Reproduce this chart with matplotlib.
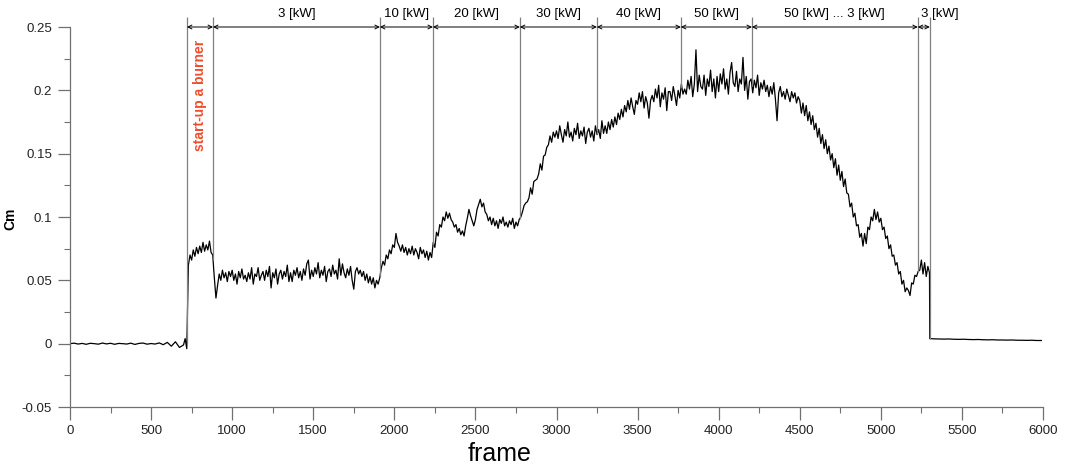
import matplotlib
matplotlib.use('Agg')
import matplotlib.pyplot as plt
import numpy as np

plt.rcParams.update({'font.family': ['Liberation Sans', 'DejaVu Sans'],
                     'font.size': 9.5})

# --- signal -------------------------------------------------------------
frame_pre = np.arange(0, 700, 25)
cm_pre = [0.0, 0.0004, -0.0003, 0.0002, -0.0005, 0.0003, 0.0, -0.0004,
          0.0005, -0.0002, 0.0003, -0.0005, 0.0002, 0.0, -0.0003, 0.0004,
          -0.0006, 0.0002, 0.0005, -0.0004, 0.0001, -0.0003, 0.0006, -0.0008,
          0.0010, -0.0020, 0.0015, -0.0030]

frame_run = np.arange(700, 5301, 10)
cm_run = [
    -0.001, 0.004, -0.004, 0.062, 0.070, 0.066, 0.074, 0.069, 0.076, 0.071,   # 700
    0.077, 0.072, 0.080, 0.073, 0.078, 0.074, 0.081, 0.072, 0.070, 0.052,     # 800
    0.036, 0.046, 0.055, 0.050, 0.058, 0.052, 0.056, 0.049, 0.057, 0.053,     # 900
    0.058, 0.050, 0.055, 0.047, 0.057, 0.052, 0.059, 0.051, 0.054, 0.049,     # 1000
    0.056, 0.051, 0.060, 0.047, 0.055, 0.053, 0.060, 0.050, 0.054, 0.057,     # 1100
    0.050, 0.058, 0.053, 0.061, 0.044, 0.056, 0.052, 0.059, 0.047, 0.055,     # 1200
    0.058, 0.051, 0.057, 0.053, 0.062, 0.049, 0.056, 0.049, 0.058, 0.054,     # 1300
    0.060, 0.052, 0.057, 0.050, 0.059, 0.054, 0.063, 0.066, 0.051, 0.058,     # 1400
    0.053, 0.060, 0.055, 0.064, 0.052, 0.058, 0.054, 0.061, 0.049, 0.057,     # 1500
    0.059, 0.053, 0.062, 0.055, 0.058, 0.051, 0.067, 0.054, 0.063, 0.056,     # 1600
    0.052, 0.059, 0.054, 0.061, 0.050, 0.043, 0.057, 0.060, 0.055, 0.058,     # 1700
    0.053, 0.057, 0.050, 0.055, 0.048, 0.053, 0.047, 0.052, 0.044, 0.050,     # 1800
    0.047, 0.052, 0.060, 0.065, 0.062, 0.070, 0.067, 0.074, 0.071, 0.078,     # 1900
    0.076, 0.087, 0.080, 0.077, 0.073, 0.078, 0.072, 0.076, 0.070, 0.075,     # 2000
    0.071, 0.077, 0.070, 0.075, 0.072, 0.067, 0.076, 0.071, 0.074, 0.068,     # 2100
    0.073, 0.066, 0.072, 0.068, 0.080, 0.076, 0.088, 0.085, 0.094, 0.092,     # 2200
    0.100, 0.097, 0.104, 0.099, 0.103, 0.098, 0.096, 0.092, 0.094, 0.088,     # 2300
    0.091, 0.086, 0.089, 0.085, 0.093, 0.099, 0.106, 0.101, 0.097, 0.093,     # 2400
    0.098, 0.106, 0.110, 0.114, 0.108, 0.111, 0.104, 0.102, 0.097, 0.100,     # 2500
    0.094, 0.099, 0.093, 0.097, 0.091, 0.098, 0.095, 0.100, 0.093, 0.096,     # 2600
    0.092, 0.097, 0.094, 0.099, 0.091, 0.096, 0.093, 0.098, 0.100, 0.104,     # 2700
    0.109, 0.111, 0.112, 0.115, 0.123, 0.118, 0.128, 0.129, 0.130, 0.134,     # 2800
    0.142, 0.137, 0.148, 0.149, 0.155, 0.157, 0.164, 0.159, 0.167, 0.163,     # 2900
    0.168, 0.162, 0.172, 0.165, 0.159, 0.169, 0.164, 0.175, 0.163, 0.167,     # 3000
    0.160, 0.170, 0.165, 0.174, 0.162, 0.168, 0.164, 0.171, 0.158, 0.167,     # 3100
    0.170, 0.163, 0.168, 0.160, 0.172, 0.165, 0.169, 0.162, 0.176, 0.166,     # 3200
    0.172, 0.166, 0.175, 0.169, 0.177, 0.171, 0.179, 0.173, 0.182, 0.177,     # 3300
    0.185, 0.179, 0.188, 0.183, 0.192, 0.185, 0.194, 0.187, 0.181, 0.192,     # 3400
    0.189, 0.198, 0.191, 0.199, 0.186, 0.195, 0.190, 0.178, 0.192, 0.196,     # 3500
    0.191, 0.201, 0.194, 0.204, 0.187, 0.198, 0.193, 0.202, 0.184, 0.199,     # 3600
    0.199, 0.192, 0.203, 0.196, 0.188, 0.200, 0.194, 0.205, 0.197, 0.201,     # 3700
    0.197, 0.208, 0.201, 0.211, 0.195, 0.205, 0.232, 0.199, 0.212, 0.203,     # 3800
    0.201, 0.212, 0.196, 0.209, 0.203, 0.216, 0.199, 0.209, 0.194, 0.211,     # 3900
    0.199, 0.213, 0.205, 0.217, 0.201, 0.209, 0.197, 0.214, 0.222, 0.206,     # 4000
    0.203, 0.215, 0.199, 0.209, 0.205, 0.226, 0.200, 0.211, 0.193, 0.207,     # 4100
    0.209, 0.198, 0.208, 0.202, 0.212, 0.196, 0.206, 0.201, 0.208, 0.199,     # 4200
    0.204, 0.195, 0.203, 0.197, 0.206, 0.193, 0.176, 0.198, 0.203, 0.195,     # 4300
    0.199, 0.193, 0.201, 0.196, 0.191, 0.199, 0.194, 0.198, 0.190, 0.195,     # 4400
    0.192, 0.182, 0.190, 0.180, 0.188, 0.176, 0.183, 0.173, 0.180, 0.169,     # 4500
    0.174, 0.163, 0.170, 0.158, 0.165, 0.154, 0.161, 0.150, 0.156, 0.145,     # 4600
    0.150, 0.139, 0.146, 0.133, 0.141, 0.129, 0.136, 0.124, 0.130, 0.119,     # 4700
    0.118, 0.108, 0.111, 0.100, 0.103, 0.093, 0.094, 0.084, 0.087, 0.077,     # 4800
    0.087, 0.079, 0.092, 0.090, 0.100, 0.097, 0.106, 0.098, 0.104, 0.096,     # 4900
    0.099, 0.090, 0.092, 0.083, 0.085, 0.075, 0.078, 0.069, 0.070, 0.062,     # 5000
    0.064, 0.055, 0.057, 0.047, 0.050, 0.041, 0.044, 0.042, 0.038, 0.048,     # 5100
    0.047, 0.054, 0.053, 0.057, 0.058, 0.066, 0.055, 0.064, 0.053, 0.061,     # 5200
    0.056,                                                                    # 5300
]

frame_post = np.r_[5302, np.arange(5330, 6000, 30)]
cm_post = [0.0040, 0.0038, 0.0037, 0.0036, 0.0037, 0.0035, 0.0034, 0.0035,
           0.0033, 0.0032, 0.0033, 0.0031, 0.0030, 0.0031, 0.0029, 0.0029,
           0.0028, 0.0029, 0.0027, 0.0027, 0.0026, 0.0027, 0.0025, 0.0025]

frames = np.concatenate([frame_pre, frame_run, frame_post])
cm = np.array(cm_pre + cm_run + cm_post)

# operating regimes
marks = [721, 882, 1911, 2238, 2774, 3249, 3767, 4205, 5228, 5302]
regime_labels = ['3 [kW]', '10 [kW]', '20 [kW]', '30 [kW]', '40 [kW]',
                 '50 [kW]', '50 [kW] ... 3 [kW]']
last_label = '3 [kW]'

fig = plt.figure(figsize=(10.67, 4.67), dpi=100)
ax = fig.add_axes([70 / 1067, 1 - 407 / 467, 973 / 1067, 380 / 467])

ax.plot(frames, cm, color='black', lw=0.9)

top = 0.258
bottoms = np.interp(marks, frames, cm)
bottoms[0] = 0.0
ax.vlines(marks, bottoms, top, color='#808080', lw=0.9, clip_on=False)

for a, b in zip(marks[:-1], marks[1:]):
    ax.annotate('', xy=(b, 0.25), xytext=(a, 0.25), annotation_clip=False,
                arrowprops=dict(arrowstyle='<->', lw=0.7, color='black',
                                shrinkA=0, shrinkB=0, mutation_scale=7))
for a, b, lab in zip(marks[1:-2], marks[2:-1], regime_labels):
    ax.text((a + b) / 2, 0.2603, lab, ha='center', va='center', fontsize=9.5,
            clip_on=False)
ax.text(marks[-2] + 22, 0.2603, last_label, ha='left', va='center',
        fontsize=9.5, clip_on=False)

ax.text((marks[0] + marks[1]) / 2, 0.240, 'start-up a burner', rotation=90,
        ha='center', va='top', color='#f04e2d', fontweight='bold', fontsize=10)

ax.set_xlim(0, 6000)
ax.set_ylim(-0.05, 0.25)
ax.set_xticks(np.arange(0, 6001, 500))
ax.set_xticks(np.arange(250, 6000, 500), minor=True)
ax.set_yticks([-0.05, 0, 0.05, 0.1, 0.15, 0.2, 0.25])
ax.set_yticklabels(['-0.05', '0', '0.05', '0.1', '0.15', '0.2', '0.25'])
ax.set_yticks(np.arange(-0.025, 0.25, 0.05), minor=True)

for s in ('top', 'right'):
    ax.spines[s].set_visible(False)
for s in ('left', 'bottom'):
    ax.spines[s].set_color('#707070')
    ax.spines[s].set_linewidth(0.9)
ax.tick_params(which='major', length=9, width=0.9, color='#707070',
               labelsize=9.5, labelcolor='#222222', pad=4)
ax.tick_params(which='minor', length=4.5, width=0.8, color='#707070')

ax.set_ylabel('Cm', fontweight='bold', fontsize=10)
ax.yaxis.set_label_coords(-53 / 973, (407 - 219) / 380)
fig.text(500 / 1067, 1 - 454 / 467, 'frame', ha='center', va='center',
         fontsize=18)

fig.savefig('out.png', dpi=100)
